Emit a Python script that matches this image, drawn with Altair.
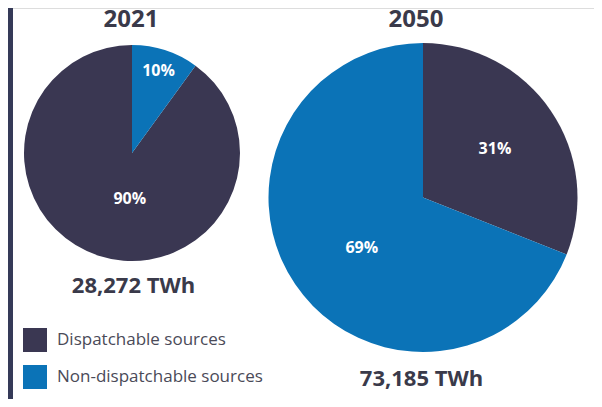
import altair as alt
import pandas as pd

years = [2021, 2050]
categories = ["Dispatchable sources", "Non-dispatchable sources"]
share_2021 = [90, 10]
share_2050 = [31, 69]
# order in which slices are stacked clockwise from 12 o'clock
order_2021 = [1, 0]
order_2050 = [0, 1]
totals_twh = [28272, 73185]

colors = ["#3a3752", "#0b73b7"]
TEXT_DARK = "#3a3a4a"

rows = []
for yr, shares, orders in [(2021, share_2021, order_2021), (2050, share_2050, order_2050)]:
    seq = sorted(zip(orders, categories, shares))
    cum = 0
    mids = {}
    for o, c, s in seq:
        mids[c] = cum + s / 2
        cum += s
    for c, s, o in zip(categories, shares, orders):
        rows.append({"year": yr, "category": c, "share": s, "ord": o,
                     "mid": mids[c], "label": f"{s}%"})
df = pd.DataFrame(rows)

tot_df = pd.DataFrame({"year": years,
                       "total": [f"{t:,} TWh" for t in totals_twh],
                       "title": [str(y) for y in years]})

W, H = 586, 391

xs = alt.Scale(domain=[2021, 2050], range=[124, 415])
ys = alt.Scale(domain=[2021, 2050], range=[145, 189.5])
ts = alt.Scale(domain=[0, 100])
cs = alt.Scale(domain=categories, range=colors)

X = alt.X("year:Q", scale=xs, axis=None)
Y = alt.Y("year:Q", scale=ys, axis=None)

base = alt.Chart(df)

strip = alt.Chart(tot_df.head(1)).mark_rect(color="#353a58").encode(
    x=alt.value(0), x2=alt.value(5), y=alt.value(0), y2=alt.value(H)
)

def pie(yr, r, legend):
    return base.transform_filter(alt.datum.year == yr).mark_arc(outerRadius=r).encode(
        x=X, y=Y,
        theta=alt.Theta("share:Q", stack=True, scale=ts),
        color=alt.Color("category:N", scale=cs,
                        legend=alt.Legend(orient="none", legendX=15, legendY=320,
                                          title=None, symbolType="square",
                                          symbolSize=576, symbolStrokeWidth=0,
                                          labelFontSize=17, labelColor="#4a4a58",
                                          labelFont="Open Sans", rowPadding=13,
                                          labelOffset=10, padding=0,
                                          labelLimit=400) if legend else None),
        order=alt.Order("ord:Q"),
    )

def pct(yr, cat, r, dx=0, dy=0):
    return base.transform_filter(
        (alt.datum.year == yr) & (alt.datum.category == cat)
    ).mark_text(radius=r, dx=dx, dy=dy, color="white", fontWeight="bold",
                fontSize=16, baseline="middle", align="center").encode(
        x=X, y=Y,
        theta=alt.Theta("mid:Q", stack=None, scale=ts),
        text="label:N",
    )

def text_layer(yr, field, yv, size, dx=0):
    return alt.Chart(tot_df).transform_filter(alt.datum.year == yr).mark_text(
        fontWeight="bold", fontSize=size, color=TEXT_DARK, baseline="alphabetic",
        align="center", dx=dx).encode(x=X, y=alt.value(yv), text=f"{field}:N")

chart = alt.layer(
    strip,
    pie(2021, 108, True),
    pie(2050, 154.5, False),
    pct(2021, categories[1], 86),
    pct(2021, categories[0], 46, dx=12, dy=2),
    pct(2050, categories[0], 87),
    pct(2050, categories[1], 80, dx=5, dy=6),
    text_layer(2021, "title", 19, 24, dx=-1),
    text_layer(2050, "title", 19, 24, dx=-7),
    text_layer(2021, "total", 285, 22, dx=1.5),
    text_layer(2050, "total", 378, 22, dx=-1.5),
).properties(
    width=W, height=H, autosize="none", padding=0, background="white"
).configure_view(stroke=None).configure(font="Open Sans")

chart.save("out.html", embed_options={"renderer": "svg", "actions": False})
